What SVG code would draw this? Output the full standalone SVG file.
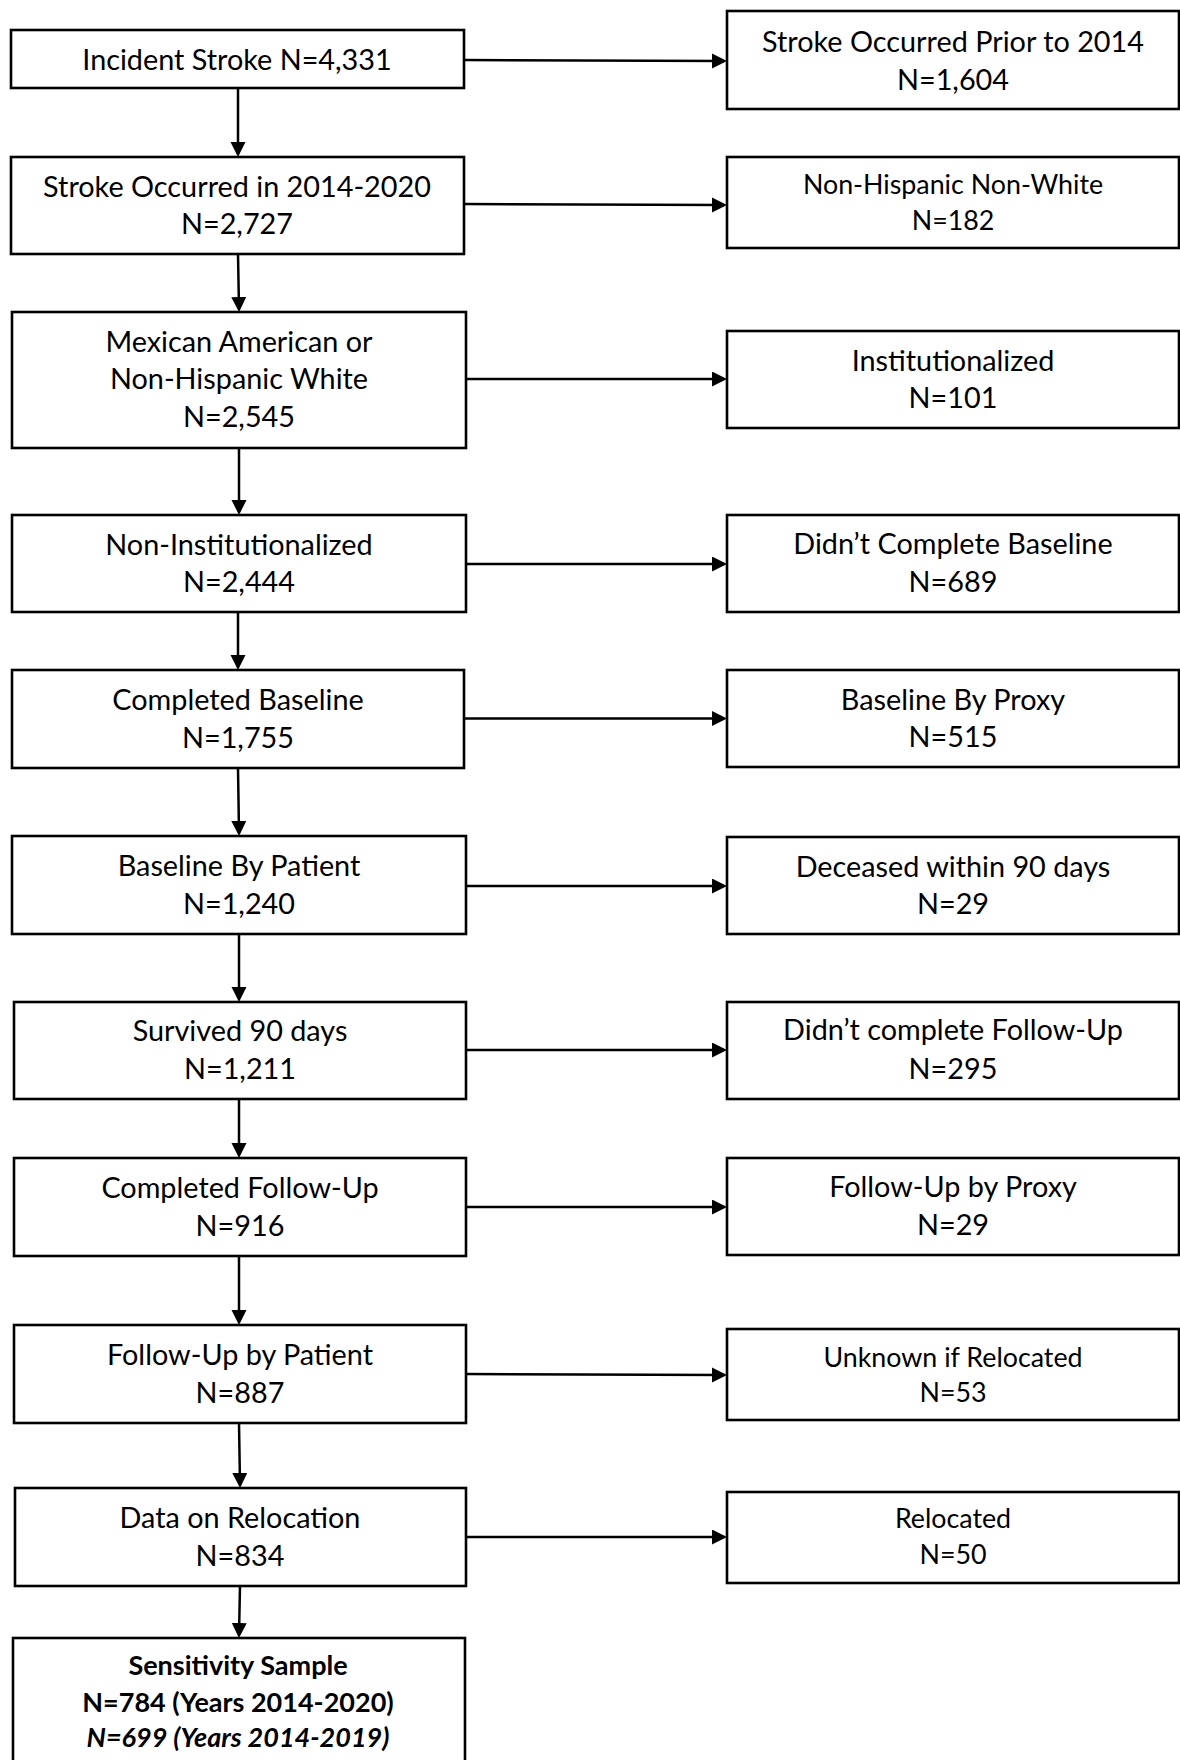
<svg xmlns="http://www.w3.org/2000/svg" width="1180" height="1760" viewBox="0 0 1180 1760">
<defs>
<marker id="ah" markerUnits="userSpaceOnUse" markerWidth="16" markerHeight="16" refX="12" refY="7.5" orient="auto">
<path d="M0,0 L15,7.5 L0,15 z" fill="#000"/>
</marker>
<style>
.box{fill:#fff;stroke:#000;stroke-width:2.6}
.t{font-family:Lato,"Liberation Sans",sans-serif;font-size:28.8px;fill:#000;text-anchor:middle}
.s{font-size:26.8px}
.b{font-weight:bold;font-size:27px}
.i{font-style:italic}
.c{stroke:#000;stroke-width:2.5;fill:none;marker-end:url(#ah)}
</style>
</defs>
<rect width="1180" height="1760" fill="#fff"/>
<g id="connectors">
<line class="c" x1="238" y1="88" x2="238" y2="154"/>
<line class="c" x1="238" y1="254" x2="239" y2="309"/>
<line class="c" x1="239" y1="448" x2="239" y2="512"/>
<line class="c" x1="238" y1="612" x2="238" y2="667"/>
<line class="c" x1="238" y1="768" x2="239" y2="833"/>
<line class="c" x1="239" y1="934" x2="239" y2="999"/>
<line class="c" x1="239" y1="1099" x2="239" y2="1155"/>
<line class="c" x1="239" y1="1256" x2="239" y2="1322"/>
<line class="c" x1="239" y1="1423" x2="240" y2="1485"/>
<line class="c" x1="240" y1="1586" x2="239" y2="1635"/>
<line class="c" x1="464" y1="60" x2="724" y2="61"/>
<line class="c" x1="464" y1="204" x2="724" y2="205"/>
<line class="c" x1="466" y1="379" x2="724" y2="379"/>
<line class="c" x1="466" y1="564" x2="724" y2="564"/>
<line class="c" x1="464" y1="718.5" x2="724" y2="718.5"/>
<line class="c" x1="466" y1="886" x2="724" y2="886"/>
<line class="c" x1="466" y1="1050" x2="724" y2="1050"/>
<line class="c" x1="466" y1="1207" x2="724" y2="1207"/>
<line class="c" x1="466" y1="1374" x2="724" y2="1375"/>
<line class="c" x1="466" y1="1537" x2="724" y2="1537"/>
</g>
<g id="n1"><rect class="box" x="11" y="30" width="453" height="58"/><text class="t" x="237" y="70">Incident Stroke N=4,331</text></g>
<g id="n2"><rect class="box" x="11" y="157" width="453" height="97"/><text class="t" x="237" y="197">Stroke Occurred in 2014-2020</text><text class="t" x="237" y="234">N=2,727</text></g>
<g id="n3"><rect class="box" x="12" y="312" width="454" height="136"/><text class="t" x="239" y="352">Mexican American or</text><text class="t" x="239" y="389">Non-Hispanic White</text><text class="t" x="239" y="427">N=2,545</text></g>
<g id="n4"><rect class="box" x="12" y="515" width="454" height="97"/><text class="t" x="239" y="555">Non-Institutionalized</text><text class="t" x="239" y="592">N=2,444</text></g>
<g id="n5"><rect class="box" x="12" y="670" width="452" height="98"/><text class="t" x="238" y="710">Completed Baseline</text><text class="t" x="238" y="748">N=1,755</text></g>
<g id="n6"><rect class="box" x="12" y="836" width="454" height="98"/><text class="t" x="239" y="876">Baseline By Patient</text><text class="t" x="239" y="914">N=1,240</text></g>
<g id="n7"><rect class="box" x="14" y="1002" width="452" height="97"/><text class="t" x="240" y="1041">Survived 90 days</text><text class="t" x="240" y="1079">N=1,211</text></g>
<g id="n8"><rect class="box" x="14" y="1158" width="452" height="98"/><text class="t" x="240" y="1198">Completed Follow-Up</text><text class="t" x="240" y="1236">N=916</text></g>
<g id="n9"><rect class="box" x="14" y="1325" width="452" height="98"/><text class="t" x="240" y="1365">Follow-Up by Patient</text><text class="t" x="240" y="1403">N=887</text></g>
<g id="n10"><rect class="box" x="15" y="1488" width="451" height="98"/><text class="t" x="240" y="1528">Data on Relocation</text><text class="t" x="240" y="1566">N=834</text></g>
<g id="n11"><rect class="box" x="13" y="1638" width="452" height="140"/><text class="t b" x="238" y="1675">Sensitivity Sample</text><text class="t b" x="238" y="1712">N=784 (Years 2014-2020)</text><text class="t b i" x="238" y="1747">N=699 (Years 2014-2019)</text></g>
<g id="r1"><rect class="box" x="727" y="11" width="452" height="98"/><text class="t" x="953" y="52">Stroke Occurred Prior to 2014</text><text class="t" x="953" y="90">N=1,604</text></g>
<g id="r2"><rect class="box" x="727" y="157" width="452" height="91"/><text class="t s" x="953" y="194">Non-Hispanic Non-White</text><text class="t s" x="953" y="230">N=182</text></g>
<g id="r3"><rect class="box" x="727" y="331" width="452" height="97"/><text class="t" x="953" y="371">Institutionalized</text><text class="t" x="953" y="408">N=101</text></g>
<g id="r4"><rect class="box" x="727" y="515" width="452" height="97"/><text class="t" x="953" y="554">Didn’t Complete Baseline</text><text class="t" x="953" y="592">N=689</text></g>
<g id="r5"><rect class="box" x="727" y="670" width="452" height="97"/><text class="t" x="953" y="710">Baseline By Proxy</text><text class="t" x="953" y="747">N=515</text></g>
<g id="r6"><rect class="box" x="727" y="837" width="452" height="97"/><text class="t" x="953" y="877">Deceased within 90 days</text><text class="t" x="953" y="914">N=29</text></g>
<g id="r7"><rect class="box" x="727" y="1002" width="452" height="97"/><text class="t" x="953" y="1040">Didn’t complete Follow-Up</text><text class="t" x="953" y="1079">N=295</text></g>
<g id="r8"><rect class="box" x="727" y="1158" width="452" height="97"/><text class="t" x="953" y="1197">Follow-Up by Proxy</text><text class="t" x="953" y="1235">N=29</text></g>
<g id="r9"><rect class="box" x="727" y="1329" width="452" height="91"/><text class="t s" x="953" y="1367">Unknown if Relocated</text><text class="t s" x="953" y="1402">N=53</text></g>
<g id="r10"><rect class="box" x="727" y="1492" width="452" height="91"/><text class="t s" x="953" y="1528">Relocated</text><text class="t s" x="953" y="1564">N=50</text></g>
</svg>
